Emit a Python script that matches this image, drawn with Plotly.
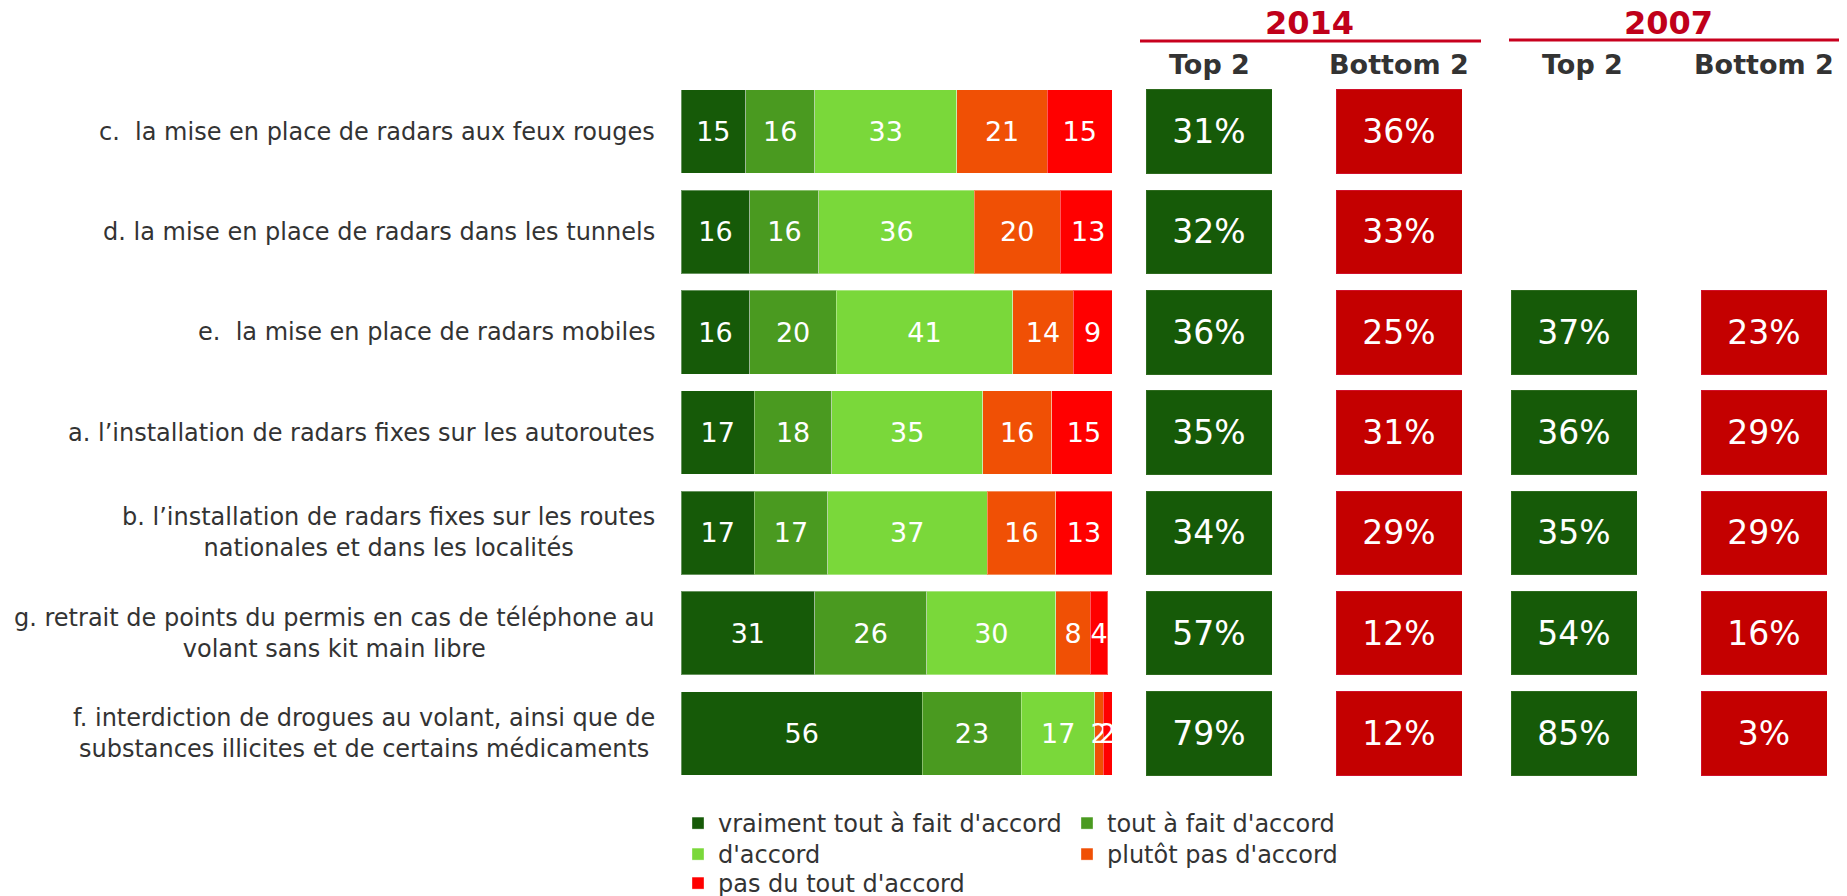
import plotly.graph_objects as go

# Rows top to bottom
items = [
    "c.  la mise en place de radars aux feux rouges",
    "d. la mise en place de radars dans les tunnels",
    "e.  la mise en place de radars mobiles",
    "a. l’installation de radars fixes sur les autoroutes",
    "b. l’installation de radars fixes sur les routes<br>nationales et dans les localités",
    "g. retrait de points du permis en cas de téléphone au<br>volant sans kit main libre",
    "f. interdiction de drogues au volant, ainsi que de<br>substances illicites et de certains médicaments",
]
keys = ["c", "d", "e", "a", "b", "g", "f"]

vraiment = [15, 16, 16, 17, 17, 31, 56]
tout_a_fait = [16, 16, 20, 18, 17, 26, 23]
accord = [33, 36, 41, 35, 37, 30, 17]
plutot_pas = [21, 20, 14, 16, 16, 8, 2]
pas_du_tout = [15, 13, 9, 15, 13, 4, 2]

top2_2014 = [31, 32, 36, 35, 34, 57, 79]
bottom2_2014 = [36, 33, 25, 31, 29, 12, 12]
top2_2007 = [None, None, 37, 36, 35, 54, 85]
bottom2_2007 = [None, None, 23, 29, 29, 16, 3]

# name, values, colour, legend row
series = [
    ("vraiment tout à fait d'accord", vraiment, "#165A08", "legend"),
    ("tout à fait d'accord", tout_a_fait, "#4A9A20", "legend"),
    ("d'accord", accord, "#7AD83A", "legend2"),
    ("plutôt pas d'accord", plutot_pas, "#F05005", "legend2"),
    ("pas du tout d'accord", pas_du_tout, "#FF0000", "legend3"),
]

FONT = "DejaVu Sans"
OFF = 8  # page body margin
W, H = 1847 - OFF, 896 - OFF

fig = go.Figure()

for name, vals, color, leg in series:
    fig.add_trace(go.Bar(
        y=keys, x=vals, name=name, orientation="h", legend=leg,
        marker=dict(color=color, line=dict(color="rgba(255,255,255,0.35)", width=1)),
        text=vals, textposition="inside", insidetextanchor="middle",
        constraintext="none", textangle=0,
        textfont=dict(family=FONT, size=27, color="white"),
        hoverinfo="skip",
    ))

# Top 2 / Bottom 2 boxes, one axis per column
boxes = [
    (top2_2014, "x2", "#165A08", "#2E6A1E"),
    (bottom2_2014, "x3", "#C40000", "#D0102A"),
    (top2_2007, "x4", "#165A08", "#2E6A1E"),
    (bottom2_2007, "x5", "#C40000", "#D0102A"),
]
for vals, ax, color, edge in boxes:
    fig.add_trace(go.Bar(
        y=keys, x=[1 if v is not None else None for v in vals],
        xaxis=ax, orientation="h", showlegend=False,
        marker=dict(color=color, line=dict(color=edge, width=1)),
        text=[f"{v}%" if v is not None else "" for v in vals],
        textposition="inside", insidetextanchor="middle", textangle=0,
        constraintext="none",
        textfont=dict(family=FONT, size=33, color="white"),
        hoverinfo="skip",
    ))


def px(x):
    return (x - OFF) / W


def py(y):
    return 1 - (y - OFF) / H


def legend_row(top):
    return dict(
        orientation="h", xref="container", yref="container",
        x=px(678), y=py(top), xanchor="left", yanchor="top",
        entrywidth=344, entrywidthmode="pixels",
        font=dict(family=FONT, size=24, color="#333333"),
        traceorder="normal", bgcolor="rgba(0,0,0,0)",
    )


y_dom = [py(783.4), py(81.6)]
fig.update_layout(
    barmode="stack",
    bargap=0.167,
    width=W, height=H,
    margin=dict(l=0, r=0, t=0, b=0, autoexpand=False),
    paper_bgcolor="white",
    plot_bgcolor="white",
    font=dict(family=FONT, color="#333333"),
    showlegend=True,
    legend=legend_row(801),
    legend2=legend_row(832),
    legend3=legend_row(861),
    xaxis=dict(domain=[px(681), px(1112)], range=[0, 100], visible=False, fixedrange=True),
    yaxis=dict(domain=y_dom, categoryorder="array", categoryarray=keys,
               autorange="reversed", visible=False),
)
cols = {"xaxis2": (1146, 1272), "xaxis3": (1336, 1462), "xaxis4": (1511, 1637), "xaxis5": (1701, 1827)}
for ax, (a, b) in cols.items():
    fig.update_layout({ax: dict(domain=[px(a), px(b)], range=[0, 1], visible=False, anchor="y")})

# Row labels
for k, lab in zip(keys, items):
    fig.add_annotation(x=px(657), y=k, xref="paper", yref="y", text=lab,
                       xanchor="right", yanchor="middle", align="center", showarrow=False,
                       font=dict(family=FONT, size=24, color="#333333"))

# Column headers
for xc, year in [(1309, "2014"), (1668, "2007")]:
    fig.add_annotation(x=px(xc), y=py(23), xref="paper", yref="paper", text=f"<b>{year}</b>",
                       xanchor="center", yanchor="middle",
                       showarrow=False, font=dict(family=FONT, size=32, color="#C0001A"))
fig.add_shape(type="line", xref="paper", yref="paper", x0=px(1140), x1=px(1481),
              y0=py(41), y1=py(41), line=dict(color="#C8001E", width=3))
fig.add_shape(type="line", xref="paper", yref="paper", x0=px(1509), x1=px(1847),
              y0=py(40), y1=py(40), line=dict(color="#C8001E", width=3))
for xc, t in [(1209, "Top 2"), (1399, "Bottom 2"), (1582, "Top 2"), (1764, "Bottom 2")]:
    fig.add_annotation(x=px(xc), y=py(64), xref="paper", yref="paper", text=f"<b>{t}</b>",
                       xanchor="center", yanchor="middle",
                       showarrow=False, font=dict(family=FONT, size=27, color="#333333"))

fig.write_html("out.html")
